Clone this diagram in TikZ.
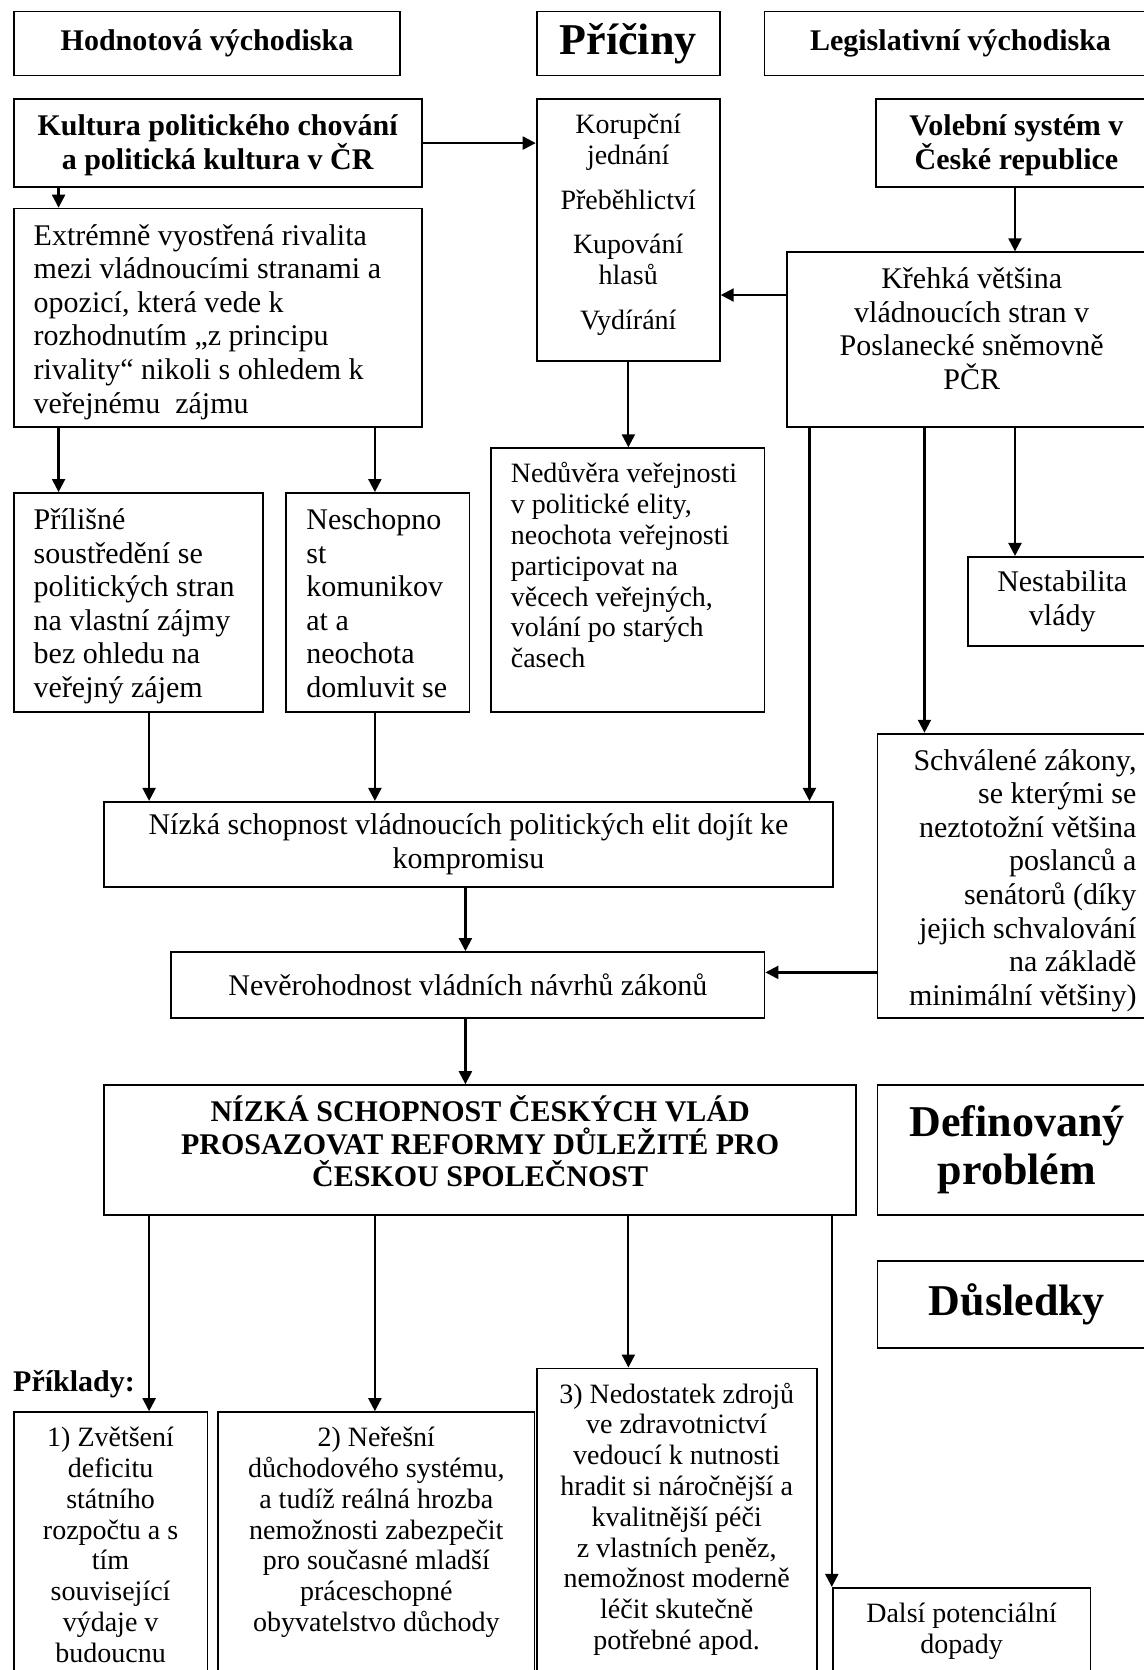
\documentclass[tikz,border=0pt]{standalone}
\usepackage{fontspec}
\setmainfont{Liberation Serif}
\usetikzlibrary{arrows.meta}

\newdimen\unitpx \unitpx=0.5325pt
\newdimen\padx \padx=10pt
\newdimen\pady \pady=4pt
\newcommand{\fbody}{\fontsize{15}{16.8}\selectfont}
\newcommand{\fsmall}{\fontsize{14}{15.4}\selectfont}
\newcommand{\fhead}{\fontsize{15}{16.2}\selectfont\bfseries}
\newcommand{\fbig}{\fontsize{22}{24}\selectfont\bfseries}
% box contents: width, height (in picture units), text
\newcommand{\topcell}[3]{\parbox[t][\dimexpr#2\unitpx-2\pady\relax][t]{\dimexpr#1\unitpx-2\padx\relax}{\rule{0pt}{0.95em}#3}}
\newcommand{\midcell}[3]{\parbox[c][\dimexpr#2\unitpx-2\pady\relax][c]{\dimexpr#1\unitpx-2\padx\relax}{#3}}

\begin{document}
\begin{tikzpicture}[x=0.5325pt, y=-0.5325pt,
  box/.style={draw, line width=0.9pt, anchor=north west, inner xsep=\padx, inner ysep=\pady, font=\fbody},
  head/.style={box, font=\fhead},
  arr/.style={-{Triangle[length=6.5pt,width=6.5pt]}, line width=1.1pt}]
\useasboundingbox (0,0) rectangle (1074,1568);
\clip (0,0) rectangle (1074,1568);

% headings
\node[head] (hod) at (12,10) {\midcell{363}{60}{\centering Hodnotová východiska}};
\node[box, font=\fbig] (pri) at (503,10) {\midcell{172}{60}{\centering Příčiny}};
\node[head] (leg) at (717,10) {\midcell{368}{60}{\centering Legislativní východiska}};

% causes
\node[head] (kul) at (12,92) {\topcell{383}{83}{\centering Kultura politického chování\\ a politická kultura v ČR}};
\node[box, font=\fsmall] (kor) at (503,92) {\topcell{172}{246}{\centering Korupční\\ jednání\\[7pt] Přeběhlictví\\[7pt] Kupování\\ hlasů\\[7pt] Vydírání}};
\node[head] (vol) at (822,92) {\topcell{263}{83}{\centering Volební systém v\\ České republice}};
\node[box] (ext) at (12,195) {\topcell{383}{205}{\raggedright Extrémně vyostřená rivalita\\ mezi vládnoucími stranami a\\ opozicí, která vede k\\ rozhodnutím „z principu\\ rivality“ nikoli s ohledem k\\ veřejnému\ \ zájmu}};
\node[box] (kre) at (738,236) {\topcell{347}{164}{\centering Křehká většina\\ vládnoucích stran v\\ Poslanecké sněmovně\\ PČR}};
\node[box] (pril) at (12,462) {\topcell{234}{206}{\raggedright Přílišné\\ soustředění se\\ politických stran\\ na vlastní zájmy\\ bez ohledu na\\ veřejný zájem}};
\node[box] (nes) at (268,462) {\topcell{172}{206}{\raggedright Neschopno\\ st\\ komunikov\\ at a\\ neochota\\ domluvit se}};
\node[box, font=\fsmall] (ned) at (460,420) {\topcell{257}{248}{\raggedright Nedůvěra veřejnosti\\ v politické elity,\\ neochota veřejnosti\\ participovat na\\ věcech veřejných,\\ volání po starých\\ časech}};
\node[box] (nst) at (908,522) {\midcell{177}{84}{\centering Nestabilita\\ vlády}};
\node[box] (sch) at (823,688) {\topcell{262}{267}{\raggedleft Schválené zákony,\\ se kterými se\\ neztotožní většina\\ poslanců a\\ senátorů (díky\\ jejich schvalování\\ na základě\\ minimální většiny)}};
\node[box] (niz) at (97,752) {\midcell{684}{80}{\centering Nízká schopnost vládnoucích politických elit dojít ke\\ kompromisu}};
\node[box] (nev) at (160,893) {\midcell{557}{62}{\centering Nevěrohodnost vládních návrhů zákonů}};

% problem
\node[head] (big) at (97,1018) {\topcell{706}{122}{\centering NÍZKÁ SCHOPNOST ČESKÝCH VLÁD\\ PROSAZOVAT REFORMY DŮLEŽITÉ PRO\\ ČESKOU SPOLEČNOST}};
\node[box, font=\fbig] (def) at (823,1018) {\midcell{262}{122}{\centering Definovaný\\ problém}};
\node[box, font=\fbig] (dus) at (823,1183) {\midcell{262}{82}{\centering Důsledky}};

% consequences
\node[font=\fhead, anchor=west, inner sep=0pt] (prik) at (12,1300) {Příklady:};
\node[box, font=\fsmall] (zve) at (12,1325) {\topcell{182}{285}{\centering 1) Zvětšení\\ deficitu\\ státního\\ rozpočtu a s\\ tím\\ související\\ výdaje v\\ budoucnu}};
\node[box, font=\fsmall] (ner) at (204,1325) {\topcell{297}{285}{\centering 2) Neřešní\\ důchodového systému,\\ a tudíž reálná hrozba\\ nemožnosti zabezpečit\\ pro současné mladší\\ práceschopné\\ obyvatelstvo důchody}};
\node[box, font=\fsmall] (ndz) at (503,1284) {\topcell{263}{326}{\centering 3) Nedostatek zdrojů\\ ve zdravotnictví\\ vedoucí k nutnosti\\ hradit si náročnější a\\ kvalitnější péči\\ z vlastních peněz,\\ nemožnost moderně\\ léčit skutečně\\ potřebné apod.}};
\node[box, font=\fsmall] (dal) at (781,1490) {\topcell{242}{120}{\centering Dalsí potenciální\\ dopady}};

% columns and rows of the connectors
\coordinate (xa) at (55,0);
\coordinate (xb) at (140,0);
\coordinate (xc) at (352,0);
\coordinate (xd) at (437,0);
\coordinate (xe) at (590,0);
\coordinate (xf) at (760,0);
\coordinate (xg) at (868,0);
\coordinate (xh) at (953,0);
\coordinate (ya) at (0,277);
\coordinate (yb) at (0,913);

\draw[arr] (kul.east) -- (kul.east -| kor.west);
\draw[arr] (kul.south -| xa) -- (ext.north -| xa);
\draw[arr] (vol.south -| xh) -- (kre.north -| xh);
\draw[arr] (kre.west |- ya) -- (kor.east |- ya);
\draw[arr] (ext.south -| xa) -- (pril.north -| xa);
\draw[arr] (ext.south -| xc) -- (nes.north -| xc);
\draw[arr] (kor.south -| xe) -- (ned.north -| xe);
\foreach \c/\n in {xf/niz, xg/sch, xh/nst}
\draw[arr] (kre.south -| \c) -- (\n.north -| \c);
\draw[arr] (pril.south -| xb) -- (niz.north -| xb);
\draw[arr] (nes.south -| xc) -- (niz.north -| xc);
\draw[arr] (niz.south -| xd) -- (nev.north -| xd);
\draw[arr] (sch.west |- yb) -- (nev.east |- yb);
\draw[arr] (nev.south -| xd) -- (big.north -| xd);
\foreach \c/\n in {xb/zve, xc/ner, xe/ndz}
\draw[arr] (big.south -| \c) -- (\n.north -| \c);
\draw[arr] (big.south -| dal.west) -- (dal.north west);
\end{tikzpicture}
\end{document}
